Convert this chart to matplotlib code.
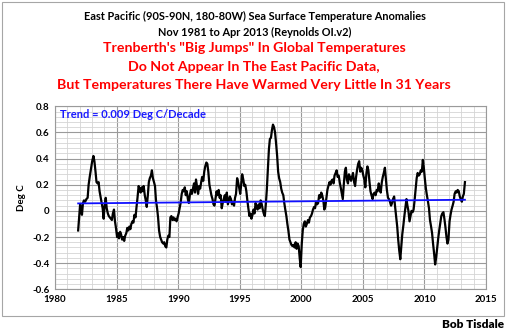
import matplotlib
matplotlib.use("Agg")
import matplotlib.pyplot as plt
from matplotlib.ticker import MultipleLocator
from matplotlib.patches import Rectangle

plt.rcParams['font.family'] = ['Lato', 'DejaVu Sans']

years = [
    1981.88, 1981.96,
    1982.04, 1982.12, 1982.19, 1982.27, 1982.35, 1982.45, 1982.55, 1982.65, 1982.73, 1982.82, 1982.92,
    1983.02, 1983.12, 1983.20, 1983.29, 1983.37, 1983.46, 1983.54, 1983.62, 1983.71, 1983.79, 1983.87, 1983.95,
    1984.04, 1984.12, 1984.20, 1984.29, 1984.37, 1984.45, 1984.54, 1984.62, 1984.70, 1984.79, 1984.87, 1984.95,
    1985.04, 1985.12, 1985.20, 1985.29, 1985.37, 1985.45, 1985.54, 1985.62, 1985.70, 1985.79, 1985.87, 1985.95,
    1986.04, 1986.12, 1986.20, 1986.29, 1986.37, 1986.45, 1986.54, 1986.62, 1986.70, 1986.79, 1986.87, 1986.95,
    1987.04, 1987.12, 1987.20, 1987.29, 1987.37, 1987.45, 1987.54, 1987.62, 1987.70, 1987.79, 1987.87, 1987.95,
    1988.04, 1988.12, 1988.20, 1988.29, 1988.37, 1988.45, 1988.54, 1988.62, 1988.70, 1988.79, 1988.87, 1988.95,
    1989.04, 1989.12, 1989.20, 1989.29, 1989.37, 1989.45, 1989.54, 1989.62, 1989.70, 1989.79, 1989.87, 1989.95,
    1990.04, 1990.12, 1990.20, 1990.29, 1990.37, 1990.45, 1990.54, 1990.62, 1990.70, 1990.79, 1990.87, 1990.95,
    1991.04, 1991.12, 1991.20, 1991.29, 1991.37, 1991.45, 1991.54, 1991.62, 1991.70, 1991.79, 1991.87, 1991.95,
    1992.04, 1992.12, 1992.20, 1992.29, 1992.37, 1992.45, 1992.54, 1992.62, 1992.70, 1992.79, 1992.87, 1992.95,
    1993.04, 1993.12, 1993.20, 1993.29, 1993.37, 1993.45, 1993.54, 1993.62, 1993.70, 1993.79, 1993.87, 1993.95,
    1994.04, 1994.12, 1994.20, 1994.29, 1994.37, 1994.45, 1994.54, 1994.62, 1994.70, 1994.79, 1994.87, 1994.95,
    1995.04, 1995.12, 1995.20, 1995.29, 1995.37, 1995.45, 1995.54, 1995.62, 1995.70, 1995.79, 1995.87, 1995.95,
    1996.04, 1996.12, 1996.20, 1996.29, 1996.37, 1996.45, 1996.54, 1996.62, 1996.70, 1996.79, 1996.87, 1996.95,
    1997.04, 1997.12, 1997.20, 1997.29, 1997.37, 1997.45, 1997.54, 1997.62, 1997.70, 1997.79, 1997.87, 1997.95,
    1998.04, 1998.12, 1998.20, 1998.29, 1998.37, 1998.45, 1998.54, 1998.62, 1998.70, 1998.79, 1998.87, 1998.95,
    1999.04, 1999.12, 1999.20, 1999.29, 1999.37, 1999.45, 1999.54, 1999.62, 1999.70, 1999.79, 1999.87, 1999.95,
    2000.04, 2000.12, 2000.20, 2000.29, 2000.37, 2000.45, 2000.54, 2000.62, 2000.70, 2000.79, 2000.87, 2000.95,
    2001.04, 2001.12, 2001.20, 2001.29, 2001.37, 2001.45, 2001.54, 2001.62, 2001.70, 2001.79, 2001.87, 2001.95,
    2002.04, 2002.12, 2002.20, 2002.29, 2002.37, 2002.45, 2002.54, 2002.62, 2002.70, 2002.79, 2002.87, 2002.95,
    2003.04, 2003.12, 2003.20, 2003.29, 2003.37, 2003.45, 2003.54, 2003.62, 2003.70, 2003.79, 2003.87, 2003.95,
    2004.04, 2004.12, 2004.20, 2004.29, 2004.37, 2004.45, 2004.54, 2004.62, 2004.70, 2004.79, 2004.87, 2004.95,
    2005.04, 2005.12, 2005.20, 2005.29, 2005.37, 2005.45, 2005.54, 2005.62, 2005.70, 2005.79, 2005.87, 2005.95,
    2006.04, 2006.12, 2006.20, 2006.29, 2006.37, 2006.45, 2006.54, 2006.62, 2006.70, 2006.79, 2006.87, 2006.95,
    2007.04, 2007.12, 2007.20, 2007.29, 2007.37, 2007.45, 2007.54, 2007.62, 2007.70, 2007.79, 2007.87, 2007.95,
    2008.04, 2008.12, 2008.20, 2008.29, 2008.37, 2008.45, 2008.54, 2008.62, 2008.70, 2008.79, 2008.87, 2008.95,
    2009.04, 2009.12, 2009.20, 2009.29, 2009.37, 2009.45, 2009.54, 2009.62, 2009.70, 2009.79, 2009.87, 2009.95,
    2010.04, 2010.12, 2010.20, 2010.29, 2010.37, 2010.45, 2010.54, 2010.62, 2010.70, 2010.79, 2010.87, 2010.95,
    2011.04, 2011.12, 2011.20, 2011.29, 2011.37, 2011.45, 2011.54, 2011.62, 2011.70, 2011.79, 2011.87, 2011.95,
    2012.04, 2012.12, 2012.20, 2012.29, 2012.37, 2012.45, 2012.54, 2012.62, 2012.70, 2012.79, 2012.87, 2012.95,
    2013.04, 2013.12, 2013.20, 2013.29,
]

anomalies = [
    -0.15, -0.05,
    0.05, 0.00, -0.03, 0.06, 0.08, 0.07, 0.09, 0.10, 0.20, 0.26, 0.32,
    0.38, 0.42, 0.38, 0.30, 0.22, 0.21, 0.22, 0.15, 0.10, 0.06, 0.02, -0.06,
    0.05, 0.10, 0.02, -0.02, -0.04, -0.05, -0.06, -0.07, -0.02, 0.01, -0.08, -0.13,
    -0.20, -0.17, -0.21, -0.16, -0.18, -0.22, -0.20, -0.23, -0.19, -0.17, -0.13, -0.15,
    -0.12, -0.14, -0.10, -0.08, -0.09, -0.03, -0.05, 0.03, 0.10, 0.19, 0.17, 0.14,
    0.18, 0.15, 0.19, 0.12, 0.08, 0.03, 0.12, 0.22, 0.25, 0.27, 0.31, 0.25,
    0.22, 0.19, 0.08, 0.02, -0.05, -0.15, -0.20, -0.22, -0.24, -0.25, -0.24, -0.27,
    -0.28, -0.22, -0.19, -0.20, -0.05, -0.04, -0.07, -0.05, -0.07, -0.06, -0.08, -0.05,
    -0.02, 0.02, 0.06, 0.13, 0.16, 0.15, 0.18, 0.12, 0.15, 0.09, 0.06, 0.12,
    0.16, 0.13, 0.17, 0.21, 0.14, 0.24, 0.18, 0.13, 0.19, 0.17, 0.22, 0.26,
    0.23, 0.30, 0.34, 0.37, 0.36, 0.30, 0.20, 0.16, 0.12, 0.09, 0.05, 0.04,
    0.10, 0.15, 0.12, 0.16, 0.10, 0.12, 0.02, 0.06, 0.09, 0.12, 0.07, 0.14,
    0.05, 0.08, 0.11, 0.09, 0.05, 0.07, 0.04, 0.10, 0.13, 0.25, 0.22, 0.18,
    0.13, 0.20, 0.28, 0.24, 0.19, 0.20, 0.15, 0.08, 0.02, -0.04, -0.02, -0.06,
    -0.03, 0.01, -0.02, 0.06, 0.03, 0.01, 0.05, 0.02, 0.08, 0.05, 0.01, -0.02,
    -0.04, 0.05, 0.16, 0.32, 0.47, 0.55, 0.56, 0.62, 0.66, 0.64, 0.60, 0.52,
    0.42, 0.30, 0.25, 0.22, 0.17, 0.14, 0.12, 0.06, 0.01, -0.04, -0.10, -0.15,
    -0.22, -0.24, -0.26, -0.27, -0.26, -0.28, -0.24, -0.29, -0.25, -0.27, -0.36, -0.43,
    -0.25, -0.15, -0.10, -0.08, -0.12, -0.10, -0.07, -0.09, -0.05, -0.04, -0.02, 0.01,
    0.03, 0.02, 0.07, 0.05, 0.06, 0.12, 0.10, 0.14, 0.12, 0.08, 0.01, 0.03,
    0.10, 0.16, 0.19, 0.22, 0.20, 0.23, 0.24, 0.21, 0.27, 0.29, 0.31, 0.26,
    0.27, 0.22, 0.18, 0.13, 0.09, 0.20, 0.30, 0.33, 0.24, 0.21, 0.28, 0.26,
    0.23, 0.26, 0.29, 0.22, 0.19, 0.26, 0.32, 0.36, 0.38, 0.30, 0.33, 0.31,
    0.27, 0.24, 0.18, 0.29, 0.34, 0.31, 0.22, 0.15, 0.12, 0.09, 0.13, 0.14,
    0.12, 0.16, 0.15, 0.21, 0.17, 0.14, 0.22, 0.26, 0.29, 0.33, 0.24, 0.16,
    0.10, 0.09, 0.07, 0.04, 0.06, 0.09, 0.11, 0.03, -0.04, -0.12, -0.22, -0.30,
    -0.37, -0.28, -0.18, -0.11, -0.04, 0.02, 0.09, 0.04, 0.00, -0.08, -0.04, 0.00,
    -0.01, 0.01, 0.08, 0.17, 0.25, 0.29, 0.27, 0.28, 0.31, 0.30, 0.39, 0.33,
    0.24, 0.17, 0.12, 0.07, 0.02, -0.07, -0.12, -0.17, -0.25, -0.33, -0.41, -0.36,
    -0.28, -0.21, -0.15, -0.09, -0.04, -0.02, -0.01, -0.06, -0.12, -0.20, -0.25, -0.22,
    -0.08, -0.03, 0.01, 0.04, 0.07, 0.13, 0.15, 0.14, 0.16, 0.15, 0.11, 0.09,
    0.07, 0.11, 0.13, 0.22,
]

trend_years = [1981.88, 2013.29]
trend_values = [0.057, 0.085]

title_lines = [
    "East Pacific (90S-90N, 180-80W) Sea Surface Temperature Anomalies",
    "Nov 1981 to Apr 2013 (Reynolds OI.v2)",
]
red_lines = [
    "Trenberth's \"Big Jumps\" In Global Temperatures",
    "Do Not Appear In The East Pacific Data,",
    "But Temperatures There Have Warmed Very Little In 31 Years",
]
trend_label = "Trend = 0.009 Deg C/Decade"
y_label = "Deg C"
credit = "Bob Tisdale"

W, H = 510, 332
fig = plt.figure(figsize=(W / 100, H / 100), dpi=100)
fig.patch.set_facecolor("white")

# outer chart border
fig.add_artist(Rectangle((2 / W, 1 - 316 / H), 502 / W, 314 / H, transform=fig.transFigure,
                         fill=False, edgecolor="#a6a6a6", linewidth=0.8))

ax = fig.add_axes([55 / W, 1 - 289.3 / H, 431 / W, 183 / H])
ax.set_xlim(1980, 2015)
ax.set_ylim(-0.6, 0.8)
ax.xaxis.set_major_locator(MultipleLocator(5))
ax.xaxis.set_minor_locator(MultipleLocator(1))
ax.yaxis.set_major_locator(MultipleLocator(0.2))
ax.yaxis.set_minor_locator(MultipleLocator(0.04))
ax.grid(which="minor", color="#d4d4d4", linewidth=0.6)
ax.grid(which="major", color="#9a9a9a", linewidth=0.8)
ax.set_axisbelow(True)
for s in ax.spines.values():
    s.set_color("#9a9a9a")
    s.set_linewidth(0.8)
ax.tick_params(which="both", length=0, pad=4)
ax.tick_params(axis="both", labelsize=7)
xt = [1980, 1985, 1990, 1995, 2000, 2005, 2010, 2015]
ax.set_xticks(xt)
ax.set_xticklabels([str(v) for v in xt], fontweight="bold")
yt = [-0.6, -0.4, -0.2, 0, 0.2, 0.4, 0.6, 0.8]
ax.set_yticks(yt)
ax.set_yticklabels(["-0.6", "-0.4", "-0.2", "0", "0.2", "0.4", "0.6", "0.8"], fontweight="bold")

ax.plot(years, anomalies, color="black", linewidth=1.6, solid_joinstyle="round", zorder=3)
ax.plot(trend_years, trend_values, color="#1010ff", linewidth=1.3, zorder=4)

fig.text(60.5 / W, 1 - 115 / H, trend_label, color="#1a1aff",
         fontsize=8, fontweight="bold", va="center", ha="left")
fig.text(22 / W, 1 - 198 / H, y_label, rotation=90, fontsize=7, fontweight="bold",
         va="center", ha="center")

fig.text(255 / W, 1 - 16 / H, title_lines[0], fontsize=7.9, fontweight="bold",
         ha="center", va="center")
fig.text(255 / W, 1 - 32 / H, title_lines[1], fontsize=7.9, fontweight="bold",
         ha="center", va="center")
for i, t in enumerate(red_lines):
    fig.text(254 / W, 1 - (48.5 + 18.3 * i) / H, t, fontsize=10.2, fontweight="bold",
             color="#ff0000", ha="center", va="center")

fig.text(504 / W, 1 - 325 / H, credit, fontsize=8.5, fontweight="heavy", ha="right", va="center")

fig.savefig("out.png", dpi=100, facecolor="white")
